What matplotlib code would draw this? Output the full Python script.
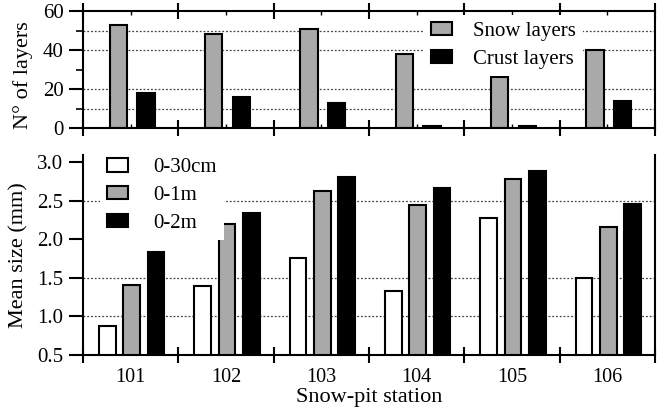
import matplotlib
matplotlib.use("Agg")
import matplotlib.pyplot as plt
import numpy as np

plt.rcParams['font.family'] = ['Liberation Serif', 'DejaVu Serif']

# data
stations = ['101', '102', '103', '104', '105', '106']
snow_layers = [53, 48, 51, 38, 26, 40]
crust_layers = [18, 16, 13, 1, 1, 14]

size_30cm = [0.88, 1.39, 1.76, 1.33, 2.27, 1.50]
size_1m = [1.41, 2.19, 2.62, 2.44, 2.78, 2.16]
size_2m = [1.84, 2.34, 2.81, 2.66, 2.88, 2.46]

grid_top = [10, 20, 40, 50]
grid_bottom = [1.0, 1.5, 2.5]

gray = '#a9a9a9'
x = np.arange(len(stations))
bounds = np.arange(len(stations) + 1) - 0.5

fig = plt.figure(figsize=(6.68, 4.18), dpi=100)
ax1 = fig.add_axes([83/668, 1 - 128/418, 572/668, 117/418])
ax2 = fig.add_axes([83/668, 1 - 355/418, 572/668, 200/418])

# ---- top panel: number of layers
for g in grid_top:
    ax1.axhline(g, color='#444444', lw=0.9, ls=(0, (1.5, 1.5)), zorder=0)
w = 0.18
ax1.bar(x - 0.13, snow_layers, w, color=gray, edgecolor='black', lw=1.5,
        label='Snow layers', zorder=2)
ax1.bar(x + 0.16, crust_layers, w, color='black', edgecolor='black', lw=1.5,
        label='Crust layers', zorder=2)
ax1.set_xlim(-0.5, 5.5)
ax1.set_ylim(0, 60)
ax1.set_yticks([0, 20, 40, 60])
ax1.set_yticks([10, 30, 50], minor=True)
ax1.set_xticks(bounds)
ax1.set_xticks(x, minor=True)
ax1.tick_params(axis='x', which='major', direction='inout', length=11, width=1.5,
                top=True, labelbottom=False)
ax1.tick_params(axis='x', which='minor', direction='in', length=3, width=1,
                top=True, labelbottom=False)
ax1.tick_params(axis='y', which='major', direction='out', length=10, width=1.5,
                labelsize=15, pad=4)
ax1.tick_params(axis='y', which='minor', direction='out', length=5, width=1.2)
ax1.set_ylabel('N° of layers', fontsize=16)
ax1.yaxis.set_label_coords(-0.088, 0.45)
for s in ax1.spines.values():
    s.set_linewidth(1.5)
leg1 = ax1.legend(loc='upper left', bbox_to_anchor=(0.596, 0.97), fontsize=15,
                  frameon=True, facecolor='white', edgecolor='none', framealpha=1,
                  fancybox=False, borderaxespad=0, borderpad=0.35,
                  handlelength=1.0, handleheight=0.6, handletextpad=1.0,
                  labelspacing=0.45)

# ---- bottom panel: mean grain size
for g in grid_bottom:
    ax2.axhline(g, color='#444444', lw=0.9, ls=(0, (1.5, 1.5)), zorder=0)
w2 = 0.175
ax2.bar(x - 0.245, size_30cm, w2, color='white', edgecolor='black',
        lw=1.5, label='0-30cm', zorder=2)
ax2.bar(x + 0.01, size_1m, w2, color=gray, edgecolor='black', lw=1.5,
        label='0-1m', zorder=2)
ax2.bar(x + 0.265, size_2m, w2, color='black', edgecolor='black', lw=1.5,
        label='0-2m', zorder=2)
ax2.set_xlim(-0.5, 5.5)
ax2.set_ylim(0.5, 3.09)
ax2.set_yticks([0.5, 1.0, 1.5, 2.0, 2.5, 3.0])
ax2.set_yticklabels(['0.5', '1.0', '1.5', '2.0', '2.5', '3.0'])
ax2.set_xticks(bounds)
ax2.set_xticklabels([])
ax2.set_xticks(x, minor=True)
ax2.set_xticklabels(stations, minor=True)
ax2.tick_params(axis='x', which='major', direction='inout', length=12, width=1.5)
ax2.tick_params(axis='x', which='minor', length=0, labelsize=14.5, pad=9)
ax2.tick_params(axis='y', direction='out', length=10, width=1.5,
                labelsize=15, pad=4)
ax2.spines['top'].set_visible(False)
for s in ['left', 'right', 'bottom']:
    ax2.spines[s].set_linewidth(1.5)
ax2.set_xlabel('Snow-pit station', fontsize=16, labelpad=1)
ax2.set_ylabel('Mean size (mm)', fontsize=16)
ax2.yaxis.set_label_coords(-0.095, 0.5)
leg2 = ax2.legend(loc='upper left', bbox_to_anchor=(0.03, 1.02), fontsize=15,
                  frameon=True, facecolor='white', edgecolor='none', framealpha=1,
                  fancybox=False, borderaxespad=0, borderpad=0.35,
                  handlelength=1.0, handleheight=0.6, handletextpad=1.2,
                  labelspacing=0.42)

fig.savefig('out.png', dpi=100)
